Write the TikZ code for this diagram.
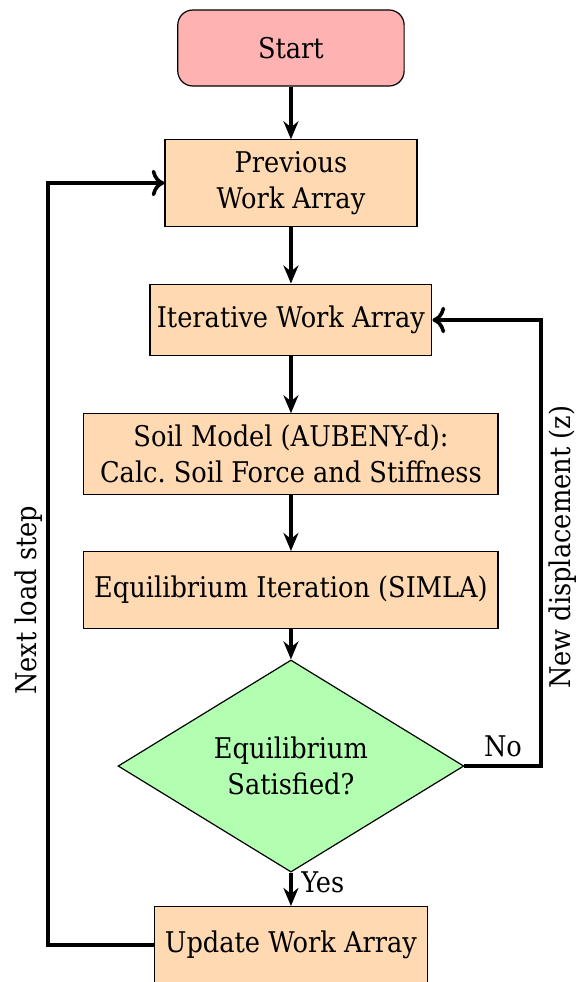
\documentclass[tikz,border=0pt]{standalone}
\usepackage{fontspec}
\setmainfont{DejaVu Serif Condensed}
\usetikzlibrary{arrows.meta,shapes.geometric,positioning}

\begin{document}
\begin{tikzpicture}[
    font=\fontsize{9.5}{12}\selectfont,
    box/.style={draw,fill=orange!30,align=center,inner sep=2pt},
    startbox/.style={draw,fill=red!30,rounded corners=5pt,align=center},
    decide/.style={draw,diamond,fill=green!30,align=center,inner sep=0pt,
      minimum width=4.05cm,minimum height=2.01cm},
    flow/.style={very thick,-{Stealth[length=6pt,width=5pt]}},
    back/.style={very thick,->},
  ]
  \useasboundingbox (0,0) rectangle (6.745,-11.499);
  \node[startbox,minimum width=2.65cm,minimum height=0.89cm] (start) at (3.407,-0.562) {Start};
  \node[box,minimum width=2.95cm,minimum height=1.01cm] (prev) at (3.407,-2.143) {Previous\\Work Array};
  \node[box,minimum width=3.30cm,minimum height=0.84cm] (iter) at (3.407,-3.747) {Iterative Work Array};
  \node[box,minimum width=4.85cm,minimum height=0.94cm] (soil) at (3.407,-5.316) {Soil Model (AUBENY-d):\\Calc.\ Soil Force and Stiffness};
  \node[box,minimum width=4.85cm,minimum height=0.90cm] (equil) at (3.407,-6.909) {Equilibrium Iteration (SIMLA)};
  \node[decide] (check) at (3.407,-8.970) {Equilibrium\\Satisfied?};
  \node[box,minimum width=3.19cm,minimum height=0.90cm] (update) at (3.407,-11.066) {Update Work Array};
  % loop corners
  \coordinate (left) at (0.562,0);
  \coordinate (right) at (6.335,0);
  \draw[flow] (start) -- (prev);
  \draw[flow] (prev) -- (iter);
  \draw[flow] (iter) -- (soil);
  \draw[flow] (soil) -- (equil);
  \draw[flow] (equil) -- (check);
  \draw[flow] (check) -- (update);
  \draw[back] (check.east) -- (check.east -| right) -- (iter.east -| right) -- (iter.east);
  \draw[back] (update.west) -- (update.west -| left) -- (prev.west -| left) -- (prev.west);
  \node (yes) at (3.78,-10.33) {Yes};
  \node (no) at (5.89,-8.74) {No};
  \node[rotate=90] (nextstep) at (0.33,-7.03) {Next load step};
  \node[rotate=90] (newdisp) at (6.59,-6.41) {New displacement (z)};
\end{tikzpicture}
\end{document}
